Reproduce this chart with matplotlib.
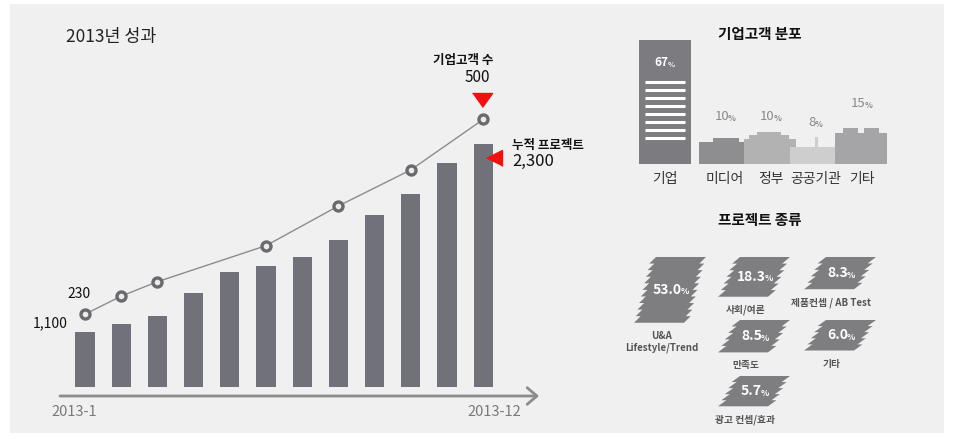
import matplotlib.pyplot as plt
from matplotlib.patches import Rectangle, Polygon
from matplotlib.transforms import offset_copy
import numpy as np

plt.rcParams['font.family'] = ['Noto Sans CJK KR', 'DejaVu Sans']

# 2013 monthly results
months = ['2013-%d' % m for m in range(1, 13)]
projects = [1100, 1150, 1200, 1350, 1480, 1520, 1580, 1690, 1850, 1980, 2180, 2300]  # cumulative projects (bars)
client_months = [1, 2, 3, 6, 8, 10, 12]
clients = [230, 255, 275, 325, 380, 430, 500]  # corporate clients (line)

# client distribution
dist_labels = ['기업', '미디어', '정부', '공공기관', '기타']
dist_values = [67, 10, 10, 8, 15]

# project types
type_labels = ['U&A\nLifestyle/Trend', '사회/여론', '제품컨셉 / AB Test', '만족도', '기타', '광고 컨셉/효과']
type_values = [53.0, 18.3, 8.3, 8.5, 6.0, 5.7]

W, H = 954, 443
fig = plt.figure(figsize=(W / 100, H / 100), dpi=100)
fig.patch.set_facecolor('white')


def px_axes(x0, y0, x1, y1):
    # axes placed by pixel box (top-left origin)
    a = fig.add_axes([x0 / W, 1 - y1 / H, (x1 - x0) / W, (y1 - y0) / H])
    a.patch.set_alpha(0)
    return a


def pct(ax, x, y, num, size, color, weight='normal'):
    # number followed by a small percent sign, centred on x
    w_num = 0.56 * size * len(num)
    w_pct = 0.85 * size * 0.62
    off = (w_num - w_pct) / 2
    ax.annotate(num, (x, y), xytext=(off, 0), textcoords='offset points', ha='right', va='center',
                fontsize=size, color=color, fontweight=weight)
    ax.annotate('%', (x, y), xytext=(off - 0.8, -1.5), textcoords='offset points', ha='left', va='center',
                fontsize=size * 0.62, color=color, fontweight='bold')


# background panel
bg = px_axes(0, 0, W, H)
bg.set_xlim(0, W)
bg.set_ylim(H, 0)
bg.axis('off')
bg.add_patch(Rectangle((10, 4), 934, 429, color='#f0f0f0', lw=0, zorder=0))

# ---- left: 2013 results ----
bg.text(66, 37, '2013년 성과', fontsize=12.5, va='center', color='#222222')
bg.annotate('', xy=(539, 396), xytext=(60, 396),
            arrowprops=dict(arrowstyle='->,head_length=0.35,head_width=0.3', color='#8c8c8c',
                            lw=2, mutation_scale=20, shrinkA=0, shrinkB=0))

ax = px_axes(40, 100, 545, 387)
x = np.arange(1, 13)
ax.bar(x, projects, width=0.53, color='#717279', zorder=2)
ax.set_xlim(-0.244, 13.71)
ax.set_ylim(749, 2581)
ax.axis('off')

ax2 = ax.twinx()
ax2.patch.set_alpha(0)
ax2.set_ylim(129, 527)
ax2.plot(client_months, clients, color='#8c8c8c', lw=1, marker='o', ms=6.5,
         mfc='#ececec', mec='#6a6a6e', mew=2.4, zorder=3)
ax2.axis('off')

ybase = ax.get_ylim()[0]
ax.annotate(months[0], (x[0], ybase), xytext=(-11, -25), textcoords='offset pixels',
            ha='center', va='center', fontsize=10.5, color='#7a7a7a', annotation_clip=False)
ax.annotate(months[-1], (x[-1], ybase), xytext=(11, -25), textcoords='offset pixels',
            ha='center', va='center', fontsize=10.5, color='#7a7a7a', annotation_clip=False)

ax.annotate(f'{projects[0]:,}', (x[0], projects[0]), xytext=(-17, 9), textcoords='offset pixels',
            ha='right', va='center', fontsize=10, color='#111111')
ax2.annotate(f'{clients[0]:,}', (client_months[0], clients[0]), xytext=(-6, 20), textcoords='offset pixels',
             ha='center', va='center', fontsize=10, color='#111111')

ax2.annotate('기업고객 수', (client_months[-1], clients[-1]), xytext=(-20, 59), textcoords='offset pixels',
             ha='center', va='center', fontsize=9, fontweight='bold', color='#111111')
ax2.annotate(f'{clients[-1]:,}', (client_months[-1], clients[-1]), xytext=(-6, 42), textcoords='offset pixels',
             ha='center', va='center', fontsize=11, color='#111111')
ax.annotate('누적 프로젝트', (x[-1], projects[-1]), xytext=(29, -1), textcoords='offset pixels',
            ha='left', va='center', fontsize=9, fontweight='bold', color='#111111')
ax.annotate(f'{projects[-1]:,}', (x[-1], projects[-1]), xytext=(29, -17), textcoords='offset pixels',
            ha='left', va='center', fontsize=12, color='#111111')

red = '#f01010'
ax2.plot([client_months[-1]], [clients[-1]], ls='none', marker=[(-10, 7), (10, 7), (0, -7)], ms=14.4,
         color=red, transform=offset_copy(ax2.transData, fig, x=-1, y=19, units='dots'), clip_on=False)
ax.plot([x[-1]], [projects[-1]], ls='none', marker=[(8, -8), (8, 8), (-8, 0)], ms=11.5,
        color=red, transform=offset_copy(ax.transData, fig, x=11, y=-14, units='dots'), clip_on=False, zorder=5)

# ---- right top: client distribution ----
bg.text(760, 34, '기업고객 분포', fontsize=10.5, fontweight='bold', ha='center', va='center', color='#111111')

unit = 45.5
bw = 52 / unit
dpos = np.r_[0, 60 / unit + np.arange(4)]
dax = px_axes(630, 40, 900, 164)
dax.set_xlim(-35 / unit, 235 / unit)
dax.set_ylim(0, 46)
dax.axis('off')

dist_colors = ['#7b7b80', '#8e8e90', '#b2b2b2', '#cecece', '#a5a5a7']
skyline = [
    None,
    ([0, .27, .77, 1], [.82, .97, .82]),
    ([0, .08, .25, .7, .85, 1], [.93, 1.07, 1.19, 1.07, .93]),
    ([0, .48, .53, 1], [.78, 1.25, .78]),
    ([0, .15, .44, .54, .83, 1], [.77, .89, .77, .89, .77]),
]

dax.bar(dpos[0], dist_values[0], width=bw, color=dist_colors[0])
dax.hlines(np.linspace(9.6, 30.4, 8), dpos[0] - 0.45, dpos[0] + 0.45, color='white', lw=2.2)
pct(dax, dpos[0], 37.8, str(dist_values[0]), 8.5, 'white', 'bold')

for i in range(1, 5):
    edges = dpos[i] - bw / 2 + np.array(skyline[i][0]) * bw
    heights = dist_values[i] * np.array(skyline[i][1])
    dax.stairs(heights, edges, baseline=0, fill=True, color=dist_colors[i])
    pct(dax, dpos[i], dist_values[i] + 7.5, str(dist_values[i]), 9.5, '#8a8a8a')

for i, lab in enumerate(dist_labels):
    dax.annotate(lab, (dpos[i], 0), xytext=(0, -15), textcoords='offset pixels', ha='center', va='center',
                 fontsize=10, color='#333333', annotation_clip=False)

# ---- right bottom: project types ----
bg.text(760, 220, '프로젝트 종류', fontsize=10.5, fontweight='bold', ha='center', va='center', color='#111111')

col_x = [639, 723, 809]
row_y = [257, 320, 376]
cells = [(0, 0), (1, 0), (2, 0), (1, 1), (2, 1), (1, 2)]


def sheaf(ax, x0, top, w, h, skew=17, tooth=5, color='#7e7e80'):
    # stack of slanted sheets with saw-tooth sides
    n = max(int(round(h / 6.5)), 4)
    ys = np.linspace(top, top + h, n + 1)

    def xl(y):
        return x0 + skew * (top + h - y) / h

    def xr(y):
        return xl(y) + w - skew

    pts = [(xl(top), top)]
    for i in range(n):
        pts += [(xr(ys[i]) + tooth, ys[i]), (xr(ys[i + 1]), ys[i + 1])]
    for i in range(n, 0, -1):
        pts += [(xl(ys[i]) - tooth, ys[i]), (xl(ys[i - 1]), ys[i - 1])]
    ax.add_patch(Polygon(pts, closed=True, color=color, lw=0))


sw = 62
for (c, r), lab, v in zip(cells, type_labels, type_values):
    x0, top = col_x[c], row_y[r]
    h = 26 + 0.75 * v
    sheaf(bg, x0, top, sw, h)
    pct(bg, x0 + sw / 2, top + h / 2, f'{v:.1f}', 10, 'white', 'bold')
    bg.text(x0 + (sw - 17) / 2, top + h + 8, lab, ha='center', va='top', fontsize=7,
            fontweight='bold', color='#555555', linespacing=1.25)

fig.savefig('out.png', dpi=100, facecolor=fig.get_facecolor())
